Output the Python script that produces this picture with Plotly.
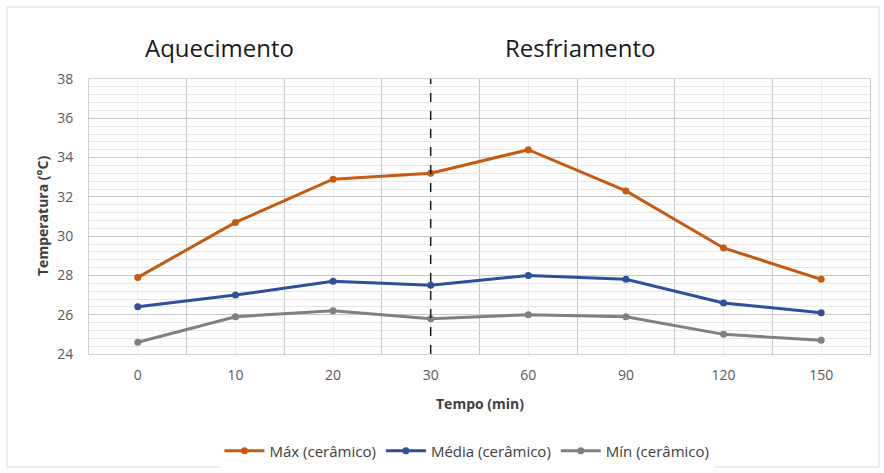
import plotly.graph_objects as go

categories = ["0", "10", "20", "30", "60", "90", "120", "150"]
maxima = [27.9, 30.7, 32.9, 33.2, 34.4, 32.3, 29.4, 27.8]
media = [26.4, 27.0, 27.7, 27.5, 28.0, 27.8, 26.6, 26.1]
minima = [24.6, 25.9, 26.2, 25.8, 26.0, 25.9, 25.0, 24.7]
series_names = ["Máx (cerâmico)", "Média (cerâmico)", "Mín (cerâmico)"]
colors = ["#C55A11", "#2F4F9A", "#808080"]
divider_cat = "30"
phase_labels = ["Aquecimento", "Resfriamento"]

xs = list(range(len(categories)))
FONT = "Open Sans, Liberation Sans, Arial, sans-serif"

L, R, T, B = 89, 14, 79, 119
PW, PH = 884 - L - R, 473 - T - B

def px(x):
    return (x - L) / PW

def py(y):
    return 1 - (y - T) / PH

fig = go.Figure()
for name, vals, col in zip(series_names, [maxima, media, minima], colors):
    fig.add_trace(go.Scatter(
        x=xs, y=vals, name=name, mode="lines+markers",
        line=dict(color=col, width=3),
        marker=dict(color=col, size=7),
    ))

div_x = categories.index(divider_cat)
fig.add_shape(type="line", xref="x", yref="y", x0=div_x, x1=div_x, y0=24, y1=38,
              line=dict(color="#1a1a1a", width=1.5, dash="dash"), layer="above")

# outer chart border
fig.add_shape(type="rect", xref="paper", yref="paper",
              x0=px(7), x1=px(879), y0=py(467), y1=py(7),
              line=dict(color="#D9D9D9", width=1))

for lbl, cx in zip(phase_labels, [219, 580]):
    fig.add_annotation(x=px(cx), y=py(48), xref="paper", yref="paper",
                       xanchor="center", yanchor="middle",
                       text=lbl, showarrow=False,
                       font=dict(family=FONT, size=24, color="#1a1a1a"))
fig.add_annotation(x=px(480), y=py(403), xref="paper", yref="paper",
                   xanchor="center", yanchor="middle",
                   text="<b>Tempo (min)</b>", showarrow=False,
                   font=dict(family=FONT, size=14, color="#404040"))
fig.add_annotation(x=px(42), y=py(216), xref="paper", yref="paper",
                   xanchor="center", yanchor="middle",
                   text="<b>Temperatura (°C)</b>", showarrow=False, textangle=-90,
                   font=dict(family=FONT, size=14, color="#404040"))

fig.update_layout(
    width=884, height=473,
    margin=dict(l=L, r=R, t=T, b=B, autoexpand=False),
    paper_bgcolor="white", plot_bgcolor="white",
    font=dict(family=FONT, size=14, color="#595959"),
    showlegend=True,
    legend=dict(orientation="h", x=px(467), xanchor="center", y=py(451),
                yanchor="middle", font=dict(size=15, color="#404040"),
                itemwidth=40),
    xaxis=dict(
        range=[-0.5, len(categories)-0.5],
        tickmode="array", tickvals=xs, ticktext=categories,
        showgrid=True, gridcolor="#EDEDED", gridwidth=1,
        minor=dict(tickmode="array", tickvals=[i+0.5 for i in range(-1, len(categories))],
                   showgrid=True, gridcolor="#C8C8C8", gridwidth=1, ticks=""),
        showline=True, linecolor="#D0D0D0", mirror=True,
        zeroline=False, ticks="", ticklabelstandoff=8,
    ),
    yaxis=dict(
        range=[24, 38], dtick=2, tick0=24,
        showgrid=True, gridcolor="#C8C8C8", gridwidth=1,
        minor=dict(dtick=0.4, tick0=24, showgrid=True, gridcolor="#E6E6E6", gridwidth=1),
        showline=True, linecolor="#D0D0D0", mirror=True,
        zeroline=False, ticks="", ticklabelstandoff=12,
    ),
)

fig.write_html("out.html", config={"displayModeBar": False},
               post_script="document.body.style.margin='0';")
